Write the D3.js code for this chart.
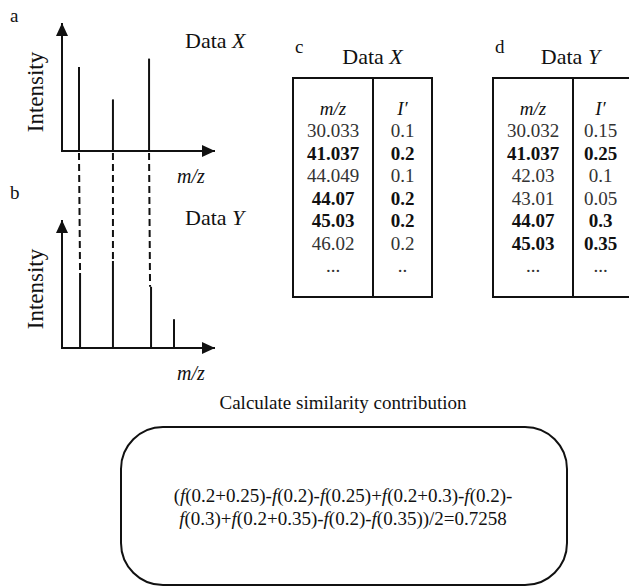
<!DOCTYPE html>
<html>
<head>
<meta charset="utf-8">
<script src="https://cdn.jsdelivr.net/npm/d3@7"></script>
<style>
  body { margin: 0; background: #fff; }
</style>
</head>
<body>
<div id="chart"></div>
<script>
// spectrum peaks (arbitrary m/z position, relative intensity)
const peaksX = [
  { pos: 11.1, inten: 0.70 },
  { pos: 33.3, inten: 0.43 },
  { pos: 56.9, inten: 0.77 }
];
const peaksY = [
  { pos: 11.8, inten: 0.625 },
  { pos: 33.3, inten: 0.725 },
  { pos: 58.2, inten: 0.51 },
  { pos: 73.2, inten: 0.24 }
];
// which X peak matches which Y peak (dashed links)
const matches = [[0, 0], [1, 1], [2, 2]];

// tables
const mzX = ['30.033', '41.037', '44.049', '44.07', '45.03', '46.02', '...'];
const intX = ['0.1', '0.2', '0.1', '0.2', '0.2', '0.2', '..'];
const boldX = [false, true, false, true, true, false, false];
const mzY = ['30.032', '41.037', '42.03', '43.01', '44.07', '45.03', '...'];
const intY = ['0.15', '0.25', '0.1', '0.05', '0.3', '0.35', '...'];
const boldY = [false, true, false, false, true, true, false];

const calcTitle = 'Calculate similarity contribution';
const formulaLines = [
  '(f(0.2+0.25)-f(0.2)-f(0.25)+f(0.2+0.3)-f(0.2)-',
  'f(0.3)+f(0.2+0.35)-f(0.2)-f(0.35))/2=0.7258'
];

const W = 629, H = 586;
const svg = d3.select('#chart').append('svg')
  .attr('width', W).attr('height', H)
  .attr('font-family', "'Liberation Serif', 'DejaVu Serif', serif");

const ink = '#111';

const defs = svg.append('defs');
defs.append('marker')
  .attr('id', 'arrow')
  .attr('viewBox', '0 0 13 12')
  .attr('refX', 13).attr('refY', 6)
  .attr('markerWidth', 13).attr('markerHeight', 12)
  .attr('markerUnits', 'userSpaceOnUse')
  .attr('orient', 'auto')
  .append('path')
  .attr('d', 'M0,0L13,6L0,12Z')
  .attr('fill', ink);

const x = d3.scaleLinear().domain([0, 100]).range([62, 215]);

function spectrum(g, peaks, baseY, topY, label, title, titleY) {
  const y = d3.scaleLinear().domain([0, 1]).range([baseY, baseY - 120]);
  // axes
  g.append('line')
    .attr('x1', x(0)).attr('y1', baseY + 1).attr('x2', x(0)).attr('y2', topY)
    .attr('stroke', ink).attr('stroke-width', 2).attr('marker-end', 'url(#arrow)');
  g.append('line')
    .attr('x1', x(0) - 1).attr('y1', baseY).attr('x2', x(100)).attr('y2', baseY)
    .attr('stroke', ink).attr('stroke-width', 2).attr('marker-end', 'url(#arrow)');
  g.selectAll('line.peak')
    .data(peaks)
    .join('line')
    .attr('class', 'peak')
    .attr('x1', d => x(d.pos)).attr('x2', d => x(d.pos))
    .attr('y1', baseY).attr('y2', d => y(d.inten))
    .attr('stroke', ink).attr('stroke-width', 2);
  g.append('text')
    .attr('transform', `translate(43,${(baseY + topY) / 2 + 5}) rotate(-90)`)
    .attr('text-anchor', 'middle')
    .attr('font-size', 23).attr('fill', ink)
    .text('Intensity');
  g.append('text')
    .attr('x', 177).attr('y', baseY + 32)
    .attr('font-size', 20).attr('font-style', 'italic').attr('fill', ink)
    .text('m/z');
  g.append('text')
    .attr('x', 10).attr('y', titleY - 26)
    .attr('font-size', 19).attr('fill', ink)
    .text(label);
  const t = g.append('text')
    .attr('x', 185).attr('y', titleY)
    .attr('font-size', 22).attr('fill', ink);
  t.append('tspan').text('Data ');
  t.append('tspan').attr('font-style', 'italic').text(title);
  return y;
}

const gA = svg.append('g');
const yA = spectrum(gA, peaksX, 151, 23, 'a', 'X', 48);
const gB = svg.append('g');
const yB = spectrum(gB, peaksY, 348, 220, 'b', 'Y', 225);

// dashed links between matching peaks
svg.append('g')
  .selectAll('line')
  .data(matches)
  .join('line')
  .attr('x1', d => x(peaksX[d[0]].pos))
  .attr('x2', d => x(peaksY[d[1]].pos) - (d[1] === 2 ? 1 : 0))
  .attr('y1', 153)
  .attr('y2', d => yB(peaksY[d[1]].inten))
  .attr('stroke', ink).attr('stroke-width', 2)
  .attr('stroke-dasharray', '7,4');

// tables
function table(left, divider, right, label, title, mz, inten, bold) {
  const g = svg.append('g');
  const top = 78, bottom = 297;
  const row = d3.scaleLinear().domain([0, 7]).range([115, 272]);
  g.append('rect')
    .attr('x', left).attr('y', top)
    .attr('width', right - left).attr('height', bottom - top)
    .attr('fill', 'none').attr('stroke', ink).attr('stroke-width', 2);
  g.append('line')
    .attr('x1', divider).attr('x2', divider).attr('y1', top).attr('y2', bottom)
    .attr('stroke', ink).attr('stroke-width', 2);
  const c1 = (left + divider) / 2, c2 = (divider + Math.min(right, 628)) / 2;
  g.append('text').attr('x', c1).attr('y', row(0))
    .attr('text-anchor', 'middle').attr('font-size', 19).attr('font-style', 'italic')
    .attr('fill', ink).text('m/z');
  g.append('text').attr('x', c2).attr('y', row(0))
    .attr('text-anchor', 'middle').attr('font-size', 19).attr('font-style', 'italic')
    .attr('fill', ink).text('I′');
  g.selectAll('text.mz')
    .data(mz)
    .join('text')
    .attr('class', 'mz')
    .attr('x', c1).attr('y', (d, i) => row(i + 1))
    .attr('text-anchor', 'middle').attr('font-size', 19)
    .attr('font-weight', (d, i) => bold[i] ? 'bold' : 'normal')
    .attr('fill', (d, i) => bold[i] ? ink : '#333')
    .text(d => d);
  g.selectAll('text.int')
    .data(inten)
    .join('text')
    .attr('class', 'int')
    .attr('x', c2).attr('y', (d, i) => row(i + 1))
    .attr('text-anchor', 'middle').attr('font-size', 19)
    .attr('font-weight', (d, i) => bold[i] ? 'bold' : 'normal')
    .attr('fill', (d, i) => bold[i] ? ink : '#333')
    .text(d => d);
  g.append('text')
    .attr('x', left + 2).attr('y', 53)
    .attr('font-size', 19).attr('fill', ink).text(label);
  const t = g.append('text')
    .attr('x', (left + Math.min(right, 628)) / 2 + 10).attr('y', 64)
    .attr('text-anchor', 'middle')
    .attr('font-size', 22).attr('fill', ink);
  t.append('tspan').text('Data ');
  t.append('tspan').attr('font-style', 'italic').text(title);
}

table(293, 373, 432, 'c', 'X', mzX, intX, boldX);
table(493, 573, 640, 'd', 'Y', mzY, intY, boldY);

// bottom: calculation
svg.append('text')
  .attr('x', 343).attr('y', 409)
  .attr('text-anchor', 'middle').attr('font-size', 19).attr('fill', ink)
  .text(calcTitle);

svg.append('rect')
  .attr('x', 121).attr('y', 427)
  .attr('width', 446).attr('height', 158)
  .attr('rx', 42).attr('ry', 42)
  .attr('fill', 'none').attr('stroke', ink).attr('stroke-width', 2);

const fText = svg.append('g');
formulaLines.forEach((line, li) => {
  const t = fText.append('text')
    .attr('x', 343).attr('y', 502 + li * 23)
    .attr('text-anchor', 'middle').attr('font-size', 19).attr('fill', ink);
  line.split(/(f)/).forEach(part => {
    if (!part) return;
    const s = t.append('tspan').text(part);
    if (part === 'f') s.attr('font-style', 'italic');
  });
});
</script>
</body>
</html>
